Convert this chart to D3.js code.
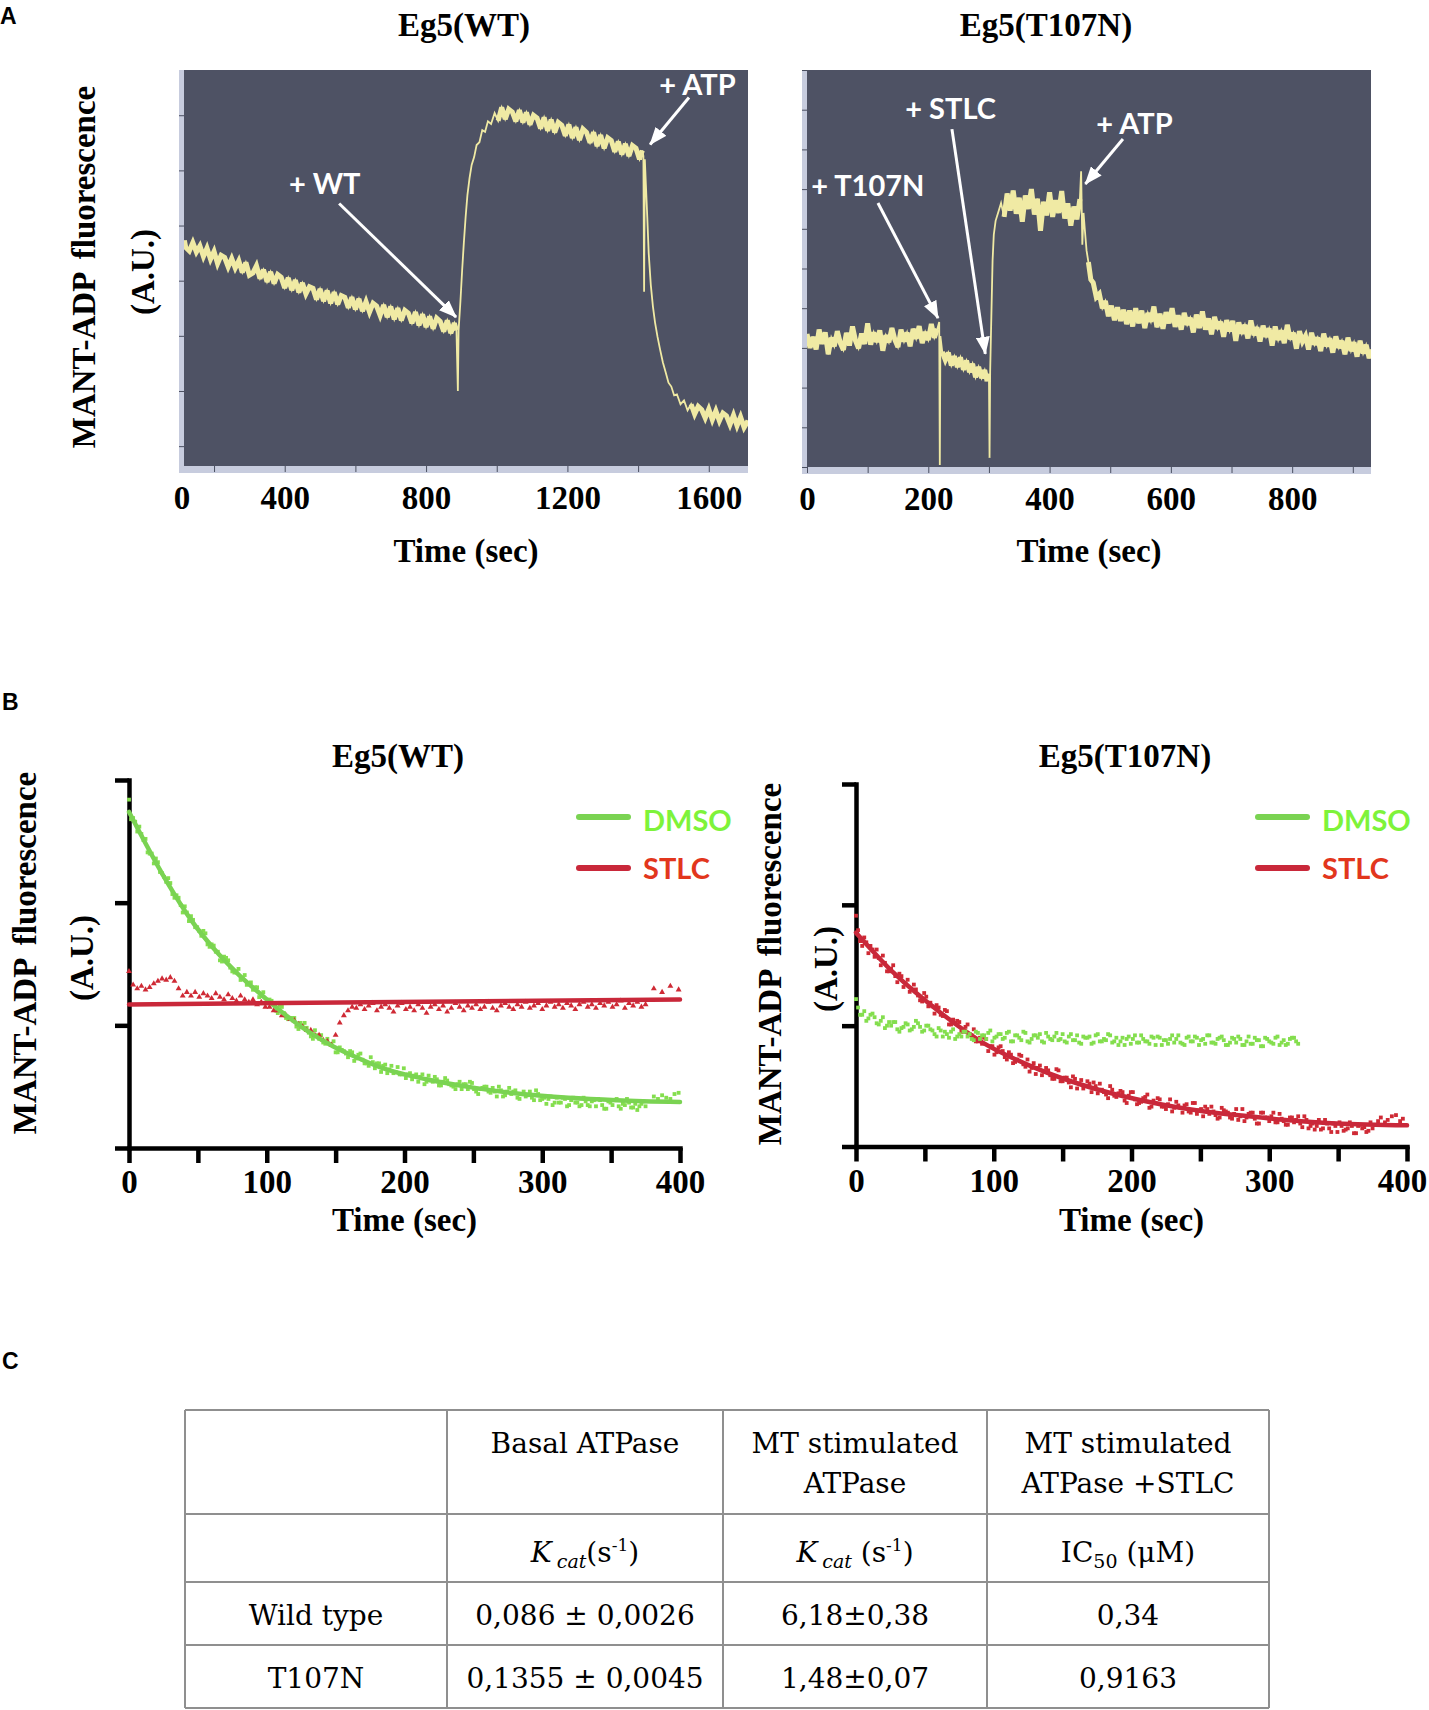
<!DOCTYPE html>
<html>
<head>
<meta charset="utf-8">
<title>Eg5 MANT-ADP release</title>
<script src="https://cdn.jsdelivr.net/npm/d3@7"></script>
<style>
    body { margin: 0; background: #fff; }
    svg { display: block; }
    .serif { font-family: "Liberation Serif", "Times New Roman", serif; font-weight: bold; fill: #000; }
    .note { font-family: Lato, "Open Sans", sans-serif; font-weight: bold; fill: #fff; font-size: 29px; }
    .cell { font-family: "DejaVu Serif", serif; fill: #000; font-size: 28px; }
    .letter { font-family: "Liberation Sans", Arial, sans-serif; font-weight: bold; font-size: 23px; }
    .legend { font-family: Lato, "Open Sans", sans-serif; font-weight: bold; font-size: 29px; }
</style>
</head>
<body>
<svg id="figure" width="1429" height="1710"></svg>
<script>
// ---- Panel A: raw fluorimeter traces, [time (s), fluorescence (A.U.)]
const wtTrace = [
    [116,47.3],[120,46.0],[130,45.4],[140,46.9],[150,45.2],[160,46.3],[170,44.4],[180,45.9],[190,43.9],[200,45.3],
    [210,43.1],[220,44.6],[230,44.2],[240,42.5],[250,44.0],[260,42.3],[270,43.6],[280,41.5],[290,43.3],[300,41.0],
    [310,41.4],[320,42.7],[330,40.4],[340,42.0],[350,39.8],[360,41.6],[370,39.5],[380,41.1],[390,40.6],[400,38.7],
    [410,40.5],[420,38.3],[430,40.1],[440,37.9],[450,39.6],[460,37.6],[470,38.9],[480,38.6],[490,36.6],[500,38.5],
    [510,36.3],[520,38.2],[530,35.9],[540,37.9],[550,35.7],[560,37.3],[570,37.0],[580,35.1],[590,37.0],[600,34.8],
    [610,36.7],[620,34.5],[630,36.2],[640,34.3],[650,35.9],[660,35.4],[670,33.7],[680,35.6],[690,33.4],[700,35.3],
    [710,33.0],[720,35.0],[730,32.8],[740,34.6],[750,34.1],[760,32.3],[770,34.3],[780,31.9],[790,33.9],[800,31.6],
    [810,33.5],[820,31.3],[830,33.2],[840,32.6],[850,30.8],[860,32.8],[870,30.5],[880,32.3],[886,31.0],
    [890,20.0],[892,31.0],[897,36.0],[902,41.8],[907,47.0],[912,51.6],[917,55.5],[923,58.6],[929,61.0],[936,62.4],
    [943,64.6],[951,65.1],[959,67.3],[967,67.0],[975,68.9],[984,68.4],[994,70.4],
    [1004,69.0],[1014,71.4],[1024,69.3],[1034,71.1],[1044,70.6],[1054,68.9],[1064,70.9],[1074,68.7],[1084,70.5],[1094,68.3],
    [1104,70.0],[1114,69.5],[1124,67.6],[1134,69.6],[1144,67.2],[1154,69.2],[1164,66.9],[1174,68.7],[1184,68.2],[1194,66.3],
    [1204,68.3],[1214,65.9],[1224,67.8],[1234,65.5],[1244,67.5],[1254,66.9],[1264,65.0],[1274,66.9],[1284,64.4],[1294,66.4],
    [1304,64.0],[1314,65.9],[1324,65.4],[1334,63.4],[1344,65.2],[1354,62.9],[1364,64.8],[1374,62.6],[1384,64.5],[1394,64.0],
    [1404,62.0],[1412,63.6],[1415,62.6],[1417,38.0],[1419,62.0],[1422,57.5],[1426,51.5],[1430,45.0],[1436,39.2],[1442,35.3],
    [1448,32.4],[1455,29.8],[1462,27.6],[1470,25.2],[1478,23.4],[1486,21.5],[1494,20.8],[1502,19.2],[1510,19.4],[1520,17.6],
    [1530,18.3],[1540,16.5],[1550,17.6],[1560,15.8],[1570,17.2],[1580,16.6],[1590,15.1],[1600,16.7],[1610,14.8],[1620,16.4],
    [1630,14.6],[1640,16.0],[1650,15.5],[1660,13.9],[1670,15.6],[1680,13.7],[1690,15.3],[1700,13.4],[1711,14.6]
];
// fast phases (injection spikes, binding and release jumps) are drawn as a thin line
const wtFastPhases = [[887, 1000], [1413, 1545]];

const t107nTrace = [
    [0,33.5],[5,30.0],[10,32.8],[15,29.6],[20,34.6],[25,31.0],[30,33.9],[35,28.4],[40,32.6],[45,30.4],
    [50,34.2],[55,31.2],[60,29.5],[65,33.8],[70,30.6],[75,35.4],[80,31.8],[85,29.9],[90,33.6],[95,31.0],
    [100,36.2],[105,30.8],[110,33.9],[115,31.5],[120,34.4],[125,29.3],[130,33.2],[135,31.4],[140,35.0],[145,32.0],
    [150,30.2],[155,34.6],[160,31.6],[165,33.9],[170,30.4],[175,34.8],[180,32.3],[185,35.5],[190,31.2],[195,34.0],
    [200,32.0],[205,36.0],[210,32.6],[215,34.8],[218,36.5],[219,0.5],[220,33.0],[223,29.0],[228,27.0],[233,28.8],
    [238,25.6],[243,27.9],[248,25.2],[253,27.6],[258,24.5],[263,26.8],[268,23.9],[273,26.0],[278,22.6],[283,25.2],
    [288,22.4],[293,24.4],[297,21.6],[300,23.5],[301,2.3],[302,24.0],[304,38.0],[306,52.0],[308,58.5],[311,62.0],
    [315,64.0],[320,66.5],[325,63.0],[330,68.9],[335,64.6],[340,69.6],[345,63.8],[350,67.8],[355,61.8],[360,68.4],
    [365,65.0],[370,70.0],[375,63.6],[380,67.6],[385,59.5],[390,66.8],[395,63.4],[400,69.2],[405,63.0],[410,67.2],
    [415,64.0],[420,69.5],[425,62.6],[430,66.4],[435,60.8],[440,65.6],[445,62.4],[450,67.5],[452,74.5],[454,56.0],
    [456,64.0],[458,60.0],[461,54.5],[464,51.6],[468,47.2],[472,46.4],[477,42.8],[482,43.6],[487,40.0],[492,41.8],
    [497,38.0],[502,40.6],[507,37.0],[512,40.2],[517,36.8],[522,39.6],[527,36.0],[532,39.4],[537,35.4],[542,40.0],
    [547,36.2],[552,39.4],[557,35.0],[562,38.8],[567,36.6],[572,40.4],[577,35.2],[582,38.6],[587,34.8],[592,39.0],
    [597,36.2],[602,40.0],[607,35.3],[612,38.2],[617,34.6],[622,38.8],[627,35.8],[632,37.6],[637,33.9],[642,38.4],
    [647,35.0],[652,39.2],[657,34.6],[662,37.4],[667,33.4],[672,37.8],[677,34.8],[682,36.6],[687,32.8],[692,37.0],
    [697,34.2],[702,36.8],[707,31.8],[712,36.4],[717,33.6],[722,35.8],[727,32.4],[732,36.9],[737,33.2],[742,35.2],
    [747,31.6],[752,35.6],[757,32.8],[762,34.9],[767,30.6],[772,35.4],[777,32.0],[782,34.4],[787,31.2],[792,35.8],
    [797,32.2],[802,33.8],[807,29.8],[812,34.2],[817,31.6],[822,33.0],[827,29.6],[832,33.8],[837,30.8],[842,32.6],
    [847,29.2],[852,33.6],[857,30.4],[862,32.4],[867,28.8],[872,32.9],[877,30.0],[882,31.8],[887,28.4],[892,32.6],
    [897,29.2],[902,31.4],[907,27.8],[912,31.8],[917,28.6],[922,30.8],[927,27.4],[930,29.6]
];
const t107nFastPhases = [[216.5, 222], [299, 322], [451, 462]];

const wtTraceTicks = [200, 400, 600, 800, 1000, 1200, 1400, 1600];
const wtTraceLabels = [400, 800, 1200, 1600];
const wtTraceYTicks = [10, 20, 30, 40, 50, 60, 70];
const t107nTraceTicks = [0, 100, 200, 300, 400, 500, 600, 700, 800, 900];
const t107nTraceLabels = [0, 200, 400, 600, 800];
const t107nTraceYTicks = [0, 10, 20, 30, 40, 50, 60, 70, 80, 90, 100];

// annotations: label anchor and arrow, all in data units
const wtNotes = [
    { label: '+ WT', tx: 412, ty: 55.7, x1: 554, y1: 54.0, x2: 885, y2: 33.4 },
    { label: '+ ATP', tx: 1460, ty: 73.6, x1: 1544, y1: 73.2, x2: 1434, y2: 64.7 }
];
const t107nNotes = [
    { label: '+ T107N', tx: 7, ty: 68.3, x1: 117, y1: 66.5, x2: 216, y2: 37.5 },
    { label: '+ STLC', tx: 162, ty: 87.7, x1: 239, y1: 85.1, x2: 294, y2: 28.5 },
    { label: '+ ATP', tx: 477, ty: 83.8, x1: 521, y1: 82.6, x2: 459, y2: 71.3 }
];

// ---- Panel B: MANT-ADP release; two interleaved reads, 3 s apart each
const kineticTimes = d3.range(0, 376, 3);
const kineticTimesB = d3.range(1.5, 376, 3);
const t107nDmsoTimes = d3.range(0, 322, 3);
const t107nDmsoTimesB = d3.range(1.5, 322, 3);

const wtDmso = [
    2.84,2.69,2.58,2.56,2.52,2.40,2.32,2.33,2.24,2.17,2.16,2.04,2.04,1.92,1.92,1.89,1.80,1.77,1.77,1.66,
    1.66,1.60,1.53,1.56,1.53,1.44,1.44,1.37,1.41,1.34,1.29,1.31,1.24,1.18,1.21,1.17,1.10,1.15,1.06,1.06,
    1.06,0.97,1.00,0.98,0.91,0.96,0.89,0.86,0.89,0.84,0.78,0.82,0.79,0.74,0.78,0.73,0.77,0.69,0.67,0.70,
    0.69,0.62,0.68,0.64,0.61,0.66,0.60,0.57,0.61,0.59,0.54,0.60,0.54,0.55,0.58,0.51,0.54,0.55,0.51,0.48,
    0.54,0.52,0.48,0.53,0.46,0.48,0.50,0.46,0.49,0.42,0.47,0.43,0.49,0.46,0.41,0.44,0.42,0.46,0.39,0.44,
    0.40,0.36,0.42,0.37,0.37,0.41,0.34,0.39,0.37,0.34,0.41,0.35,0.38,0.34,0.39,0.32,0.38,0.35,0.40,0.32,
    0.35,0.37,0.33,0.31,0.36,0.34
];
const wtDmsoB = [
    2.68,2.66,2.62,2.51,2.41,2.40,2.36,2.25,2.21,2.20,2.07,2.06,1.98,1.97,1.85,1.86,1.80,1.73,1.75,1.64,
    1.65,1.60,1.52,1.55,1.47,1.43,1.46,1.39,1.33,1.35,1.31,1.23,1.27,1.20,1.20,1.12,1.16,1.10,1.05,1.06,
    0.99,1.02,1.02,0.94,0.89,0.92,0.92,0.85,0.85,0.87,0.78,0.80,0.77,0.79,0.71,0.76,0.72,0.69,0.74,0.65,
    0.69,0.67,0.61,0.67,0.62,0.60,0.65,0.60,0.56,0.60,0.58,0.52,0.59,0.54,0.56,0.51,0.57,0.52,0.50,0.52,
    0.48,0.52,0.54,0.48,0.44,0.49,0.50,0.45,0.46,0.50,0.42,0.46,0.44,0.47,0.40,0.46,0.43,0.41,0.47,0.39,
    0.41,0.40,0.35,0.41,0.37,0.40,0.35,0.41,0.37,0.35,0.38,0.34,0.39,0.40,0.35,0.32,0.37,0.39,0.34,0.36,
    0.40,0.33,0.36,0.34,0.38
];
const wtDmsoTail = [[381,0.42],[384,0.40],[387,0.43],[390,0.41],[393,0.40],[396,0.44],[399,0.45]];
const wtDmsoFit = [[0,2.74],[27,2.18],[45,1.86],[62,1.62],[79,1.42],[96,1.25],[113,1.09],[130,0.95],[148,0.83],
    [165,0.74],[182,0.66],[216,0.56],[251,0.49],[285,0.44],[319,0.41],[354,0.39],[400,0.375]];

const wtStlc = [
    1.44,1.33,1.30,1.32,1.29,1.31,1.34,1.36,1.38,1.37,1.39,1.36,1.30,1.24,1.27,1.24,1.27,1.23,1.26,1.24,
    1.22,1.26,1.23,1.21,1.25,1.22,1.20,1.24,1.21,1.19,1.21,1.17,1.19,1.15,1.15,1.12,1.12,1.08,1.08,1.05,
    1.04,1.01,0.99,0.96,0.96,0.92,0.92,0.88,0.87,0.84,0.92,1.02,1.08,1.12,1.15,
    1.14,1.17,1.13,1.16,1.18,1.12,1.15,1.17,1.14,1.11,1.16,1.18,1.13,1.15,1.12,1.17,1.14,1.10,1.15,1.17,
    1.13,1.16,1.11,1.14,1.18,1.15,1.12,1.16,1.14,1.17,1.13,1.15,1.19,1.14,1.12,1.16,1.18,1.15,1.13,1.17,
    1.15,1.19,1.14,1.16,1.18,1.13,1.16,1.19,1.15,1.17,1.14,1.18,1.16,1.13,1.17,1.19,1.15,1.17,1.14,1.18,
    1.16,1.19,1.15,1.17,1.20,1.14,1.18,1.16,1.19,1.15,1.17
];
const wtStlcTail = [[381,1.30],[387,1.27],[393,1.32],[399,1.29]];
const wtStlcFit = [[0,1.17],[400,1.21]];

const t107nStlc = [
    1.91,1.70,1.73,1.60,1.63,1.63,1.50,1.52,1.45,1.50,1.36,1.41,1.35,1.28,1.34,1.25,1.20,1.24,1.19,1.10,
    1.15,1.08,1.12,1.01,1.02,1.03,0.95,1.01,0.92,0.87,0.90,0.90,0.79,0.83,0.78,0.83,0.74,0.78,0.69,0.72,
    0.75,0.66,0.62,0.69,0.65,0.59,0.65,0.59,0.56,0.63,0.54,0.57,0.49,0.56,0.52,0.48,0.54,0.45,0.50,0.52,
    0.45,0.40,0.47,0.41,0.46,0.38,0.42,0.45,0.35,0.37,0.41,0.32,0.38,0.40,0.33,0.31,0.39,0.32,0.34,0.28,
    0.35,0.28,0.36,0.30,0.25,0.31,0.33,0.26,0.24,0.30,0.28,0.23,0.31,0.25,0.21,0.27,0.28,0.19,0.28,0.24,
    0.21,0.28,0.20,0.23,0.18,0.24,0.20,0.25,0.16,0.22,0.17,0.14,0.22,0.15,0.19,0.12,0.17,0.20,0.13,0.15,
    0.17,0.11,0.18,0.16,0.13,0.15
];
const t107nStlcB = [
    1.79,1.66,1.69,1.66,1.57,1.56,1.58,1.45,1.47,1.41,1.43,1.32,1.38,1.30,1.30,1.21,1.27,1.16,1.16,1.17,
    1.09,1.13,1.01,1.05,1.04,0.95,0.99,0.93,0.97,0.87,0.85,0.89,0.83,0.76,0.82,0.79,0.72,0.76,0.70,0.76,
    0.68,0.72,0.65,0.60,0.67,0.62,0.63,0.56,0.64,0.54,0.57,0.53,0.58,0.48,0.55,0.50,0.52,0.53,0.44,0.47,
    0.43,0.50,0.42,0.44,0.45,0.36,0.45,0.39,0.36,0.40,0.43,0.33,0.36,0.39,0.33,0.35,0.29,0.37,0.32,0.34,
    0.29,0.36,0.27,0.31,0.33,0.27,0.29,0.23,0.32,0.29,0.24,0.27,0.22,0.31,0.24,0.28,0.23,0.19,0.28,0.24,
    0.25,0.20,0.27,0.21,0.18,0.24,0.22,0.19,0.25,0.15,0.19,0.17,0.14,0.22,0.15,0.19,0.12,0.17,0.14,0.20,
    0.11,0.17,0.15,0.12,0.20
];
const t107nStlcTail = [[379,0.21],[381,0.24],[384,0.20],[386,0.22],[389,0.25],[392,0.26],[395,0.21],[397,0.23]];
const t107nStlcFit = [[0,1.77],[28,1.43],[60,1.12],[92,0.86],[124,0.68],[156,0.54],[189,0.43],[221,0.35],
    [253,0.29],[285,0.25],[317,0.215],[349,0.19],[400,0.175]];

const t107nDmso = [
    1.22,1.09,1.12,1.06,1.10,1.02,1.04,0.98,1.03,1.03,0.97,0.98,1.02,0.96,0.99,1.02,0.95,1.00,0.97,0.93,
    0.98,0.91,0.93,0.95,0.89,0.93,0.95,0.91,0.89,0.95,0.89,0.92,0.94,0.87,0.91,0.93,0.90,0.95,0.87,0.92,
    0.88,0.94,0.86,0.92,0.90,0.87,0.94,0.89,0.91,0.88,0.93,0.86,0.93,0.88,0.86,0.91,0.90,0.85,0.92,0.87,
    0.89,0.93,0.86,0.90,0.87,0.84,0.91,0.89,0.86,0.92,0.87,0.85,0.90,0.91,0.84,0.88,0.89,0.86,0.92,0.85,
    0.90,0.87,0.91,0.84,0.89,0.92,0.86,0.85,0.90,0.88,0.84,0.90,0.86,0.89,0.84,0.91,0.85,0.88,0.83,0.90,
    0.87,0.85,0.91,0.86,0.84,0.89,0.90,0.85
];
const t107nDmsoB = [
    1.15,1.09,1.04,1.09,1.07,1.01,1.07,1.00,1.00,1.03,0.95,0.99,1.01,0.97,1.04,0.99,0.96,1.00,0.96,0.91,
    0.96,0.95,0.90,0.97,0.91,0.91,0.95,0.93,0.88,0.94,0.92,0.89,0.96,0.90,0.93,0.89,0.94,0.87,0.92,0.90,
    0.95,0.87,0.89,0.92,0.93,0.86,0.91,0.88,0.94,0.89,0.87,0.91,0.88,0.92,0.85,0.90,0.91,0.86,0.93,0.87,
    0.88,0.92,0.87,0.84,0.90,0.89,0.85,0.92,0.86,0.89,0.87,0.91,0.84,0.90,0.88,0.85,0.92,0.89,0.86,0.84,
    0.91,0.87,0.90,0.88,0.85,0.92,0.86,0.89,0.91,0.84,0.86,0.89,0.91,0.84,0.87,0.85,0.90,0.88,0.83,0.89,
    0.86,0.90,0.84,0.88,0.85,0.90,0.87
];

const kineticTicks = [0, 50, 100, 150, 200, 250, 300, 350, 400];
const kineticLabels = [0, 100, 200, 300, 400];
const kineticYTicks = [0, 1, 2, 3];

// ---- Panel C: ATPase table
const tableHeader = [[], ['Basal ATPase'], ['MT stimulated', 'ATPase'], ['MT stimulated', 'ATPase +STLC']];
const tableUnits = [
    [],
    [{ t: 'K', it: true }, { t: 'cat', it: true, sub: true }, { t: '(s' }, { t: '-1', sup: true }, { t: ')' }],
    [{ t: 'K', it: true }, { t: 'cat', it: true, sub: true }, { t: '\u00a0(s' }, { t: '-1', sup: true }, { t: ')' }],
    [{ t: 'IC' }, { t: '50', sub: true }, { t: '\u00a0(\u03bcM)' }]
];
const tableRows = [
    ['Wild type', '0,086 \u00b1 0,0026', '6,18\u00b10,38', '0,34'],
    ['T107N', '0,1355 \u00b1 0,0045', '1,48\u00b10,07', '0,9163']
];

const colors = {
    plotBg: '#4e5264', strip: '#c7ccde', trace: '#f0eaa4',
    green: '#84de4e', greenFit: '#7ad352', greenText: '#7ef33a',
    red: '#cf2a35', redFit: '#c9283a', redText: '#e2361d'
};

const svg = d3.select('#figure');

svg.append('defs').append('marker')
    .attr('id', 'arrow')
    .attr('markerUnits', 'userSpaceOnUse')
    .attr('viewBox', '0 0 18 14')
    .attr('markerWidth', 18).attr('markerHeight', 14)
    .attr('refX', 17).attr('refY', 7)
    .attr('orient', 'auto')
    .append('path').attr('d', 'M0,0L18,7L0,14Z').attr('fill', '#fff');

function panelLetter(letter, x, y) {
    svg.append('text').attr('class', 'letter').attr('x', x).attr('y', y).text(letter);
}

function rotatedLabel(text, cx, cy, size) {
    svg.append('text')
        .attr('class', 'serif')
        .attr('transform', `translate(${cx},${cy}) rotate(-90)`)
        .attr('text-anchor', 'middle')
        .attr('dominant-baseline', 'central')
        .style('font-size', size + 'px')
        .style('word-spacing', '6px')
        .text(text);
}

function drawTrace(o) {
    const x = d3.scaleLinear().domain(o.xDomain).range(o.xRange);
    const y = d3.scaleLinear().domain(o.yDomain).range(o.yRange);
    const [left, right] = x.range();
    const [bottom, top] = y.range();
    const g = svg.append('g');

    // light frame strip + dark plot area
    g.append('rect').attr('x', left - 5).attr('y', top).attr('width', right - left + 5)
        .attr('height', bottom - top + 7).attr('fill', colors.strip);
    g.append('rect').attr('x', left).attr('y', top).attr('width', right - left)
        .attr('height', bottom - top).attr('fill', colors.plotBg);

    g.append('g')
        .attr('transform', `translate(${left},0)`)
        .call(d3.axisLeft(y).tickValues(o.yTicks).tickSize(5).tickFormat(''))
        .call(a => a.select('.domain').remove())
        .selectAll('line').attr('stroke', '#4a4f60');

    const xAxis = g.append('g')
        .attr('transform', `translate(0,${bottom})`)
        .call(d3.axisBottom(x).tickValues(o.xTicks).tickSize(6).tickPadding(14)
            .tickFormat(d => o.xLabels.includes(d) ? d : ''))
        .call(a => a.select('.domain').remove());
    xAxis.selectAll('line').attr('stroke', '#4a4f60');
    xAxis.selectAll('text').attr('class', 'serif').style('font-size', '33px');

    if (o.zeroAtEdge) {
        g.append('text').attr('class', 'serif').style('font-size', '33px')
            .attr('x', left - 2).attr('y', bottom + 43).attr('text-anchor', 'middle').text('0');
    }

    const clipId = 'clip' + Math.round(left);
    g.append('clipPath').attr('id', clipId).append('rect')
        .attr('x', left).attr('y', top).attr('width', right - left).attr('height', bottom - top);

    // split the slow, noisy stretches out so they can be drawn as a thicker band
    const runs = [];
    let cur = [];
    o.trace.forEach(p => {
        const fast = o.fast.some(([a, b]) => p[0] >= a && p[0] <= b);
        if (fast) {
            if (cur.length > 1) runs.push(cur);
            cur = [];
        } else {
            cur.push(p);
        }
    });
    if (cur.length > 1) runs.push(cur);

    const line = d3.line().x(d => x(d[0])).y(d => y(d[1]));
    const traceG = g.append('g').attr('clip-path', `url(#${clipId})`);
    traceG.append('path')
        .datum(o.trace)
        .attr('fill', 'none')
        .attr('stroke', colors.trace)
        .attr('stroke-width', 1.8)
        .attr('d', line);
    traceG.selectAll('.band').data(runs).enter().append('path')
        .attr('class', 'band')
        .attr('fill', 'none')
        .attr('stroke', colors.trace)
        .attr('stroke-width', 5)
        .attr('stroke-linejoin', 'miter')
        .attr('stroke-miterlimit', 3)
        .attr('d', line);

    o.notes.forEach(n => {
        g.append('line')
            .attr('x1', x(n.x1)).attr('y1', y(n.y1))
            .attr('x2', x(n.x2)).attr('y2', y(n.y2))
            .attr('stroke', '#fff').attr('stroke-width', 3)
            .attr('marker-end', 'url(#arrow)');
        g.append('text').attr('class', 'note').attr('x', x(n.tx)).attr('y', y(n.ty)).text(n.label);
    });

    g.append('text').attr('class', 'serif').style('font-size', '33px')
        .attr('x', o.titleX).attr('y', 36).attr('text-anchor', 'middle').text(o.title);
    g.append('text').attr('class', 'serif').style('font-size', '33px')
        .attr('x', (left + right) / 2).attr('y', 562).attr('text-anchor', 'middle').text('Time (sec)');
}

function drawKinetics(o) {
    const x = d3.scaleLinear().domain([0, 400]).range(o.xRange);
    const y = d3.scaleLinear().domain([0, 3]).range(o.yRange);
    const g = svg.append('g');
    const x0 = x(0), y0 = y(0);

    const yAxis = g.append('g')
        .attr('transform', `translate(${x0},0)`)
        .call(d3.axisLeft(y).tickValues(kineticYTicks).tickSize(14).tickSizeOuter(0).tickFormat(''));
    const xAxis = g.append('g')
        .attr('transform', `translate(0,${y0})`)
        .call(d3.axisBottom(x).tickValues(kineticTicks).tickSize(15).tickSizeOuter(0).tickPadding(7)
            .tickFormat(d => kineticLabels.includes(d) ? d : ''));
    [yAxis, xAxis].forEach(a => {
        a.selectAll('line').attr('stroke', '#000').attr('stroke-width', 4.5);
        a.select('.domain').attr('stroke', '#000').attr('stroke-width', 4.5).attr('stroke-linecap', 'square');
    });
    xAxis.selectAll('text').attr('class', 'serif').style('font-size', '33px')
        .attr('dx', d => d === 400 ? (o.lastLabelDx || 0) : 0);

    const dots = (l) => {
        let pts = [];
        l.reads.forEach(([values, times]) => { pts = pts.concat(values.map((v, i) => [times[i], v])); });
        pts = pts.concat(l.tail || []);
        if (l.shape === 'triangle') {
            const sym = d3.symbol().type(d3.symbolTriangle).size(15);
            g.append('g').selectAll('path').data(pts).enter().append('path')
                .attr('transform', d => `translate(${x(d[0])},${y(d[1])})`)
                .attr('d', sym).attr('fill', l.color);
        } else {
            g.append('g').selectAll('rect').data(pts).enter().append('rect')
                .attr('x', d => x(d[0]) - 1.9).attr('y', d => y(d[1]) - 1.9)
                .attr('width', 3.8).attr('height', 3.8).attr('fill', l.color);
        }
    };
    const fit = (l) => {
        g.append('path').datum(l.fit)
            .attr('fill', 'none').attr('stroke', l.color).attr('stroke-width', 4.5)
            .attr('stroke-linecap', 'round')
            .attr('d', d3.line().x(d => x(d[0])).y(d => y(d[1])).curve(d3.curveMonotoneX));
    };
    o.layers.forEach(l => l.fit ? fit(l) : dots(l));

    // legend
    const lg = g.append('g').attr('transform', `translate(${o.legendX},${o.legendY})`);
    [['DMSO', colors.greenFit, colors.greenText], ['STLC', colors.redFit, colors.redText]].forEach((e, i) => {
        lg.append('line').attr('x1', 0).attr('x2', 49).attr('y1', i * 51).attr('y2', i * 51)
            .attr('stroke', e[1]).attr('stroke-width', 6).attr('stroke-linecap', 'round');
        lg.append('text').attr('class', 'legend').attr('x', 64).attr('y', i * 51 + (i ? 11 : 14))
            .attr('fill', e[2]).text(e[0]);
    });

    g.append('text').attr('class', 'serif').style('font-size', '33px')
        .attr('x', o.titleX).attr('y', 767).attr('text-anchor', 'middle').text(o.title);
    g.append('text').attr('class', 'serif').style('font-size', '33px')
        .attr('x', (x(0) + x(400)) / 2).attr('y', 1231).attr('text-anchor', 'middle').text('Time (sec)');
}

function drawTable() {
    const colEdges = [185, 447, 723, 987, 1269];
    const rowEdges = [1410, 1514, 1582, 1645, 1708];
    const g = svg.append('g');
    const mid = i => (colEdges[i] + colEdges[i + 1]) / 2;

    colEdges.forEach(cx => g.append('line').attr('x1', cx).attr('x2', cx)
        .attr('y1', rowEdges[0]).attr('y2', rowEdges[rowEdges.length - 1]));
    rowEdges.forEach(ry => g.append('line').attr('x1', colEdges[0]).attr('x2', colEdges[colEdges.length - 1])
        .attr('y1', ry).attr('y2', ry));
    g.selectAll('line').attr('stroke', '#8f8f8f').attr('stroke-width', 2);

    tableHeader.forEach((lines, i) => lines.forEach((t, k) => {
        g.append('text').attr('class', 'cell').attr('text-anchor', 'middle')
            .attr('x', mid(i)).attr('y', 1453 + k * 40).text(t);
    }));

    tableUnits.forEach((parts, i) => {
        if (!parts.length) return;
        const txt = g.append('text').attr('class', 'cell').attr('text-anchor', 'middle')
            .attr('x', mid(i)).attr('y', 1562);
        let shift = 0;
        parts.forEach(p => {
            const target = p.sub ? 6 : p.sup ? -11 : 0;
            const ts = txt.append('tspan').attr('dy', target - shift).text(p.t);
            shift = target;
            if (p.it) ts.style('font-style', 'italic');
            if (p.sub || p.sup) ts.style('font-size', p.sup ? '17px' : '19px');
            if (p.sub && p.it) ts.attr('dx', 5);
        });
    });

    tableRows.forEach((row, r) => row.forEach((t, i) => {
        g.append('text').attr('class', 'cell').attr('text-anchor', 'middle')
            .attr('x', mid(i)).attr('y', 1625 + r * 63).text(t);
    }));
}

// ---- A
panelLetter('A', 0, 24);
drawTrace({
    trace: wtTrace, fast: wtFastPhases, xDomain: [115, 1711], xRange: [184, 748], yDomain: [6.4, 78.2], yRange: [466, 70],
    xTicks: wtTraceTicks, xLabels: wtTraceLabels, yTicks: wtTraceYTicks, zeroAtEdge: true,
    notes: wtNotes, title: 'Eg5(WT)', titleX: 464
});
drawTrace({
    trace: t107nTrace, fast: t107nFastPhases, xDomain: [0, 930], xRange: [807, 1371], yDomain: [0, 100], yRange: [467, 70],
    xTicks: t107nTraceTicks, xLabels: t107nTraceLabels, yTicks: t107nTraceYTicks, zeroAtEdge: false,
    notes: t107nNotes, title: 'Eg5(T107N)', titleX: 1046
});
rotatedLabel('MANT-ADP fluorescence', 84, 267, 33);
rotatedLabel('(A.U.)', 143, 272, 33);

// ---- B
panelLetter('B', 2, 710);
drawKinetics({
    xRange: [129, 680], yRange: [1148, 780], title: 'Eg5(WT)', titleX: 398, legendX: 579, legendY: 817,
    layers: [
        { reads: [[wtDmso, kineticTimes], [wtDmsoB, kineticTimesB]], tail: wtDmsoTail, color: colors.green },
        { reads: [[wtStlc, kineticTimes]], tail: wtStlcTail, color: colors.red, shape: 'triangle' },
        { fit: wtDmsoFit, color: colors.greenFit },
        { fit: wtStlcFit, color: colors.redFit }
    ]
});
drawKinetics({
    xRange: [856, 1407], yRange: [1146.5, 784], title: 'Eg5(T107N)', titleX: 1125, legendX: 1258, legendY: 817,
    lastLabelDx: -5,
    layers: [
        { reads: [[t107nStlc, kineticTimes], [t107nStlcB, kineticTimesB]], tail: t107nStlcTail, color: colors.red },
        { fit: t107nStlcFit, color: colors.redFit },
        { reads: [[t107nDmso, t107nDmsoTimes], [t107nDmsoB, t107nDmsoTimesB]], color: colors.green }
    ]
});
rotatedLabel('MANT-ADP fluorescence', 25, 953, 33);
rotatedLabel('(A.U.)', 82, 958, 33);
rotatedLabel('MANT-ADP fluorescence', 770, 964, 33);
rotatedLabel('(A.U.)', 826, 969, 33);

// ---- C
panelLetter('C', 2, 1369);
drawTable();
</script>
</body>
</html>
